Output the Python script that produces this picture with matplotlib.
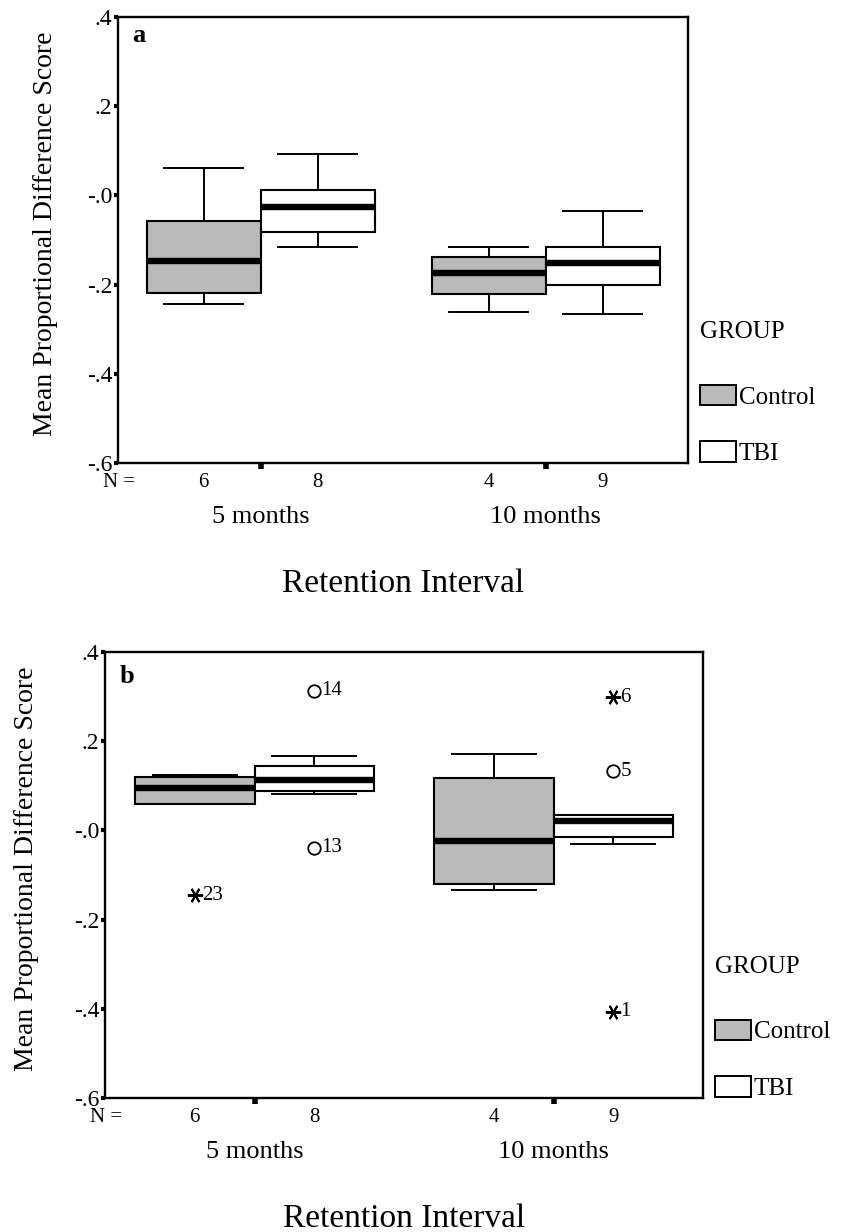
import matplotlib.pyplot as plt
from matplotlib.patches import Patch

plt.rcParams['font.family'] = ['Liberation Serif', 'DejaVu Serif']

# retention interval groups and the two subject groups
intervals = ['5 months', '10 months']
groups = ['Control', 'TBI']
group_colors = ['#bababa', 'white']

# boxes are ordered: 5mo Control, 5mo TBI, 10mo Control, 10mo TBI
n_counts = [6, 8, 4, 9]

# panel a summaries
a_whislo = [-0.243, -0.115, -0.261, -0.265]
a_q1 = [-0.218, -0.083, -0.220, -0.200]
a_med = [-0.146, -0.027, -0.175, -0.151]
a_q3 = [-0.058, 0.013, -0.139, -0.115]
a_whishi = [0.061, 0.092, -0.115, -0.036]

# panel b summaries
b_whislo = [0.059, 0.082, -0.134, -0.030]
b_q1 = [0.059, 0.088, -0.120, -0.015]
b_med = [0.095, 0.113, -0.024, 0.021]
b_q3 = [0.120, 0.144, 0.117, 0.035]
b_whishi = [0.124, 0.167, 0.171, 0.035]

# panel b outliers: box index, value, case number, kind
b_out_box = [0, 1, 1, 3, 3, 3]
b_out_val = [-0.145, 0.313, -0.039, 0.299, 0.133, -0.407]
b_out_case = ['23', '14', '13', '6', '5', '1']
b_out_kind = ['extreme', 'outlier', 'outlier', 'extreme', 'outlier', 'extreme']

yticks = [0.4, 0.2, 0.0, -0.2, -0.4, -0.6]
ytick_labels = ['.4', '.2', '-.0', '-.2', '-.4', '-.6']

W, H = 847, 1232
positions = [0.8, 1.2, 1.8, 2.2]


def draw_panel(ax, letter, letter_y, whislo, q1, med, q3, whishi, legend_xy, ylab_x):
    stats = []
    for i in range(4):
        stats.append(dict(med=med[i], q1=q1[i], q3=q3[i],
                          whislo=whislo[i], whishi=whishi[i], fliers=[]))
    bp = ax.bxp(stats, positions=positions, widths=0.4, patch_artist=True,
                showfliers=False, capwidths=0.28,
                boxprops=dict(linewidth=1.5, edgecolor='black'),
                medianprops=dict(color='black', linewidth=4.6, solid_capstyle='butt'),
                whiskerprops=dict(color='black', linewidth=1.4),
                capprops=dict(color='black', linewidth=1.4))
    for i, box in enumerate(bp['boxes']):
        box.set_facecolor(group_colors[i % 2])

    ax.set_xlim(0.5, 2.5)
    ax.set_ylim(-0.6, 0.4)
    ax.set_yticks(yticks)
    ax.set_yticklabels(ytick_labels, fontsize=17)
    ax.set_xticks([1, 2])
    ax.set_xticklabels([])
    ax.tick_params(axis='y', direction='out', length=3, width=3, pad=1)
    ax.tick_params(axis='x', direction='out', length=4, width=4)
    for sp in ax.spines.values():
        sp.set_linewidth(1.7)

    ax.set_ylabel('Mean Proportional Difference Score', fontsize=20)
    ax.yaxis.set_label_coords(ylab_x, 0.515)

    ax.text(0.025, letter_y, letter, transform=ax.transAxes, fontsize=19,
            fontweight='bold', va='baseline')

    tr = ax.get_xaxis_transform()
    ax.text(0.505, -0.044, 'N =', transform=tr, ha='center', va='center', fontsize=15)
    for p, n in zip(positions, n_counts):
        ax.text(p, -0.044, str(n), transform=tr, ha='center', va='center', fontsize=15)
    for g, lab in enumerate(intervals):
        ax.text(g + 1, -0.121, lab, transform=tr, ha='center', va='center', fontsize=19)
    ax.text(1.5, -0.27, 'Retention Interval', transform=tr, ha='center',
            va='center', fontsize=24)

    handles = [Patch(facecolor=group_colors[i], edgecolor='black', linewidth=1.4,
                     label=groups[i]) for i in range(2)]
    leg = ax.legend(handles=handles, title='GROUP', loc='lower left',
                    bbox_to_anchor=legend_xy, bbox_transform=fig.transFigure,
                    frameon=False, fontsize=18, title_fontsize=18, alignment='left',
                    handlelength=1.45, handleheight=0.9, handletextpad=0.1,
                    labelspacing=1.3, borderpad=0, borderaxespad=0)
    leg._legend_box.sep = 30


fig = plt.figure(figsize=(W / 100, H / 100), dpi=100)
ax_a = fig.add_axes([118 / W, 1 - 463 / H, 570 / W, 446 / H])
ax_b = fig.add_axes([105 / W, 1 - 1098 / H, 598 / W, 446 / H])

draw_panel(ax_a, 'a', 0.944, a_whislo, a_q1, a_med, a_q3, a_whishi,
           (700 / W, 1 - 465 / H), -0.105)
draw_panel(ax_b, 'b', 0.930, b_whislo, b_q1, b_med, b_q3, b_whishi,
           (715 / W, 1 - 1100 / H), -0.110)

# outliers and extremes for panel b
for bi, v, case, kind in zip(b_out_box, b_out_val, b_out_case, b_out_kind):
    x = positions[bi]
    if kind == 'outlier':
        ax_b.plot(x, v, marker='o', ms=9, mfc='white', mec='black', mew=1.3,
                  linestyle='none')
    else:
        ax_b.plot(x, v, marker=(6, 2, 90), ms=11, mec='black', mew=1.4,
                  linestyle='none')
    ax_b.annotate(case, (x, v), xytext=(5, 0), textcoords='offset points',
                  ha='left', va='center', fontsize=15)

fig.savefig('out.png', dpi=100)
